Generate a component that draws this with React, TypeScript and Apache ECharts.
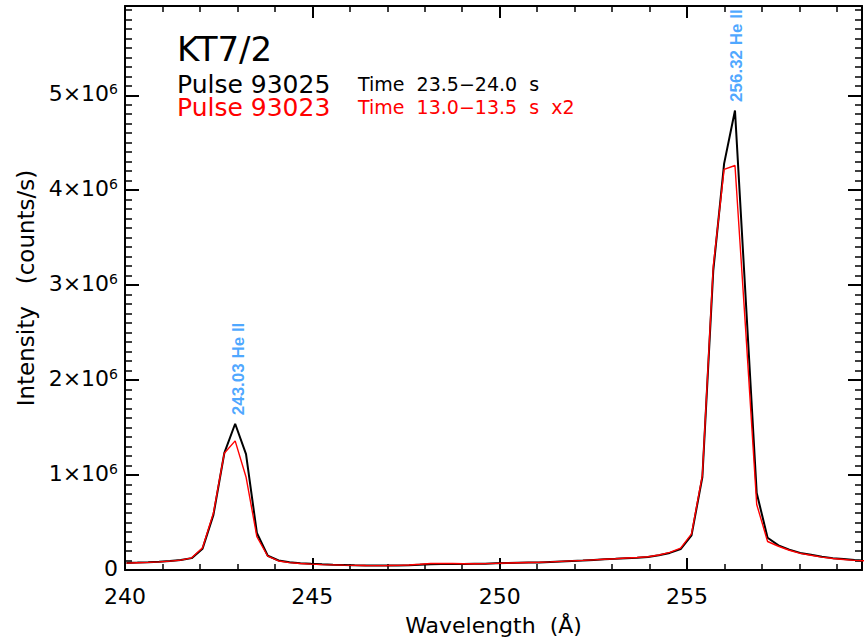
import { useEffect, useRef } from 'react';
import * as echarts from 'echarts';

// Spectrometer pixel wavelengths (Å)
const wavelength = [
  240.04, 240.33, 240.62, 240.91, 241.2, 241.49, 241.78, 242.07, 242.36, 242.65,
  242.94, 243.23, 243.52, 243.81, 244.1, 244.39, 244.68, 244.97, 245.26, 245.55,
  245.84, 246.13, 246.42, 246.71, 247.0, 247.29, 247.58, 247.87, 248.16, 248.45,
  248.74, 249.03, 249.32, 249.61, 249.9, 250.19, 250.48, 250.77, 251.06, 251.35,
  251.64, 251.93, 252.22, 252.51, 252.8, 253.09, 253.38, 253.67, 253.96, 254.25,
  254.54, 254.83, 255.12, 255.41, 255.7, 255.99, 256.28, 256.57, 256.86, 257.15,
  257.44, 257.73, 258.02, 258.31, 258.6, 258.89, 259.18, 259.47, 259.76,
];

// Pulse 93025, 23.5-24.0 s (counts/s)
const pulse93025 = [
  75000, 78000, 82000, 88000, 96000, 105000, 125000, 225000, 580000, 1230000,
  1540000, 1220000, 390000, 150000, 100000, 82000, 72000, 65000, 60000, 56000,
  53000, 50000, 48000, 47000, 47000, 48000, 50000, 55000, 60000, 62000,
  62000, 63000, 65000, 66000, 70000, 73000, 76000, 78000, 80000, 85000,
  90000, 95000, 100000, 106000, 112000, 118000, 125000, 130000, 138000, 155000,
  180000, 220000, 365000, 980000, 3150000, 4280000, 4840000, 2830000, 810000, 340000,
  260000, 215000, 180000, 160000, 140000, 125000, 115000, 105000, 100000,
];

// Pulse 93023, 13.0-13.5 s, scaled x2 (counts/s)
const pulse93023x2 = [
  72000, 76000, 80000, 86000, 94000, 104000, 128000, 235000, 600000, 1230000,
  1360000, 980000, 350000, 145000, 95000, 78000, 68000, 62000, 57000, 54000,
  51000, 49000, 47000, 46000, 47000, 49000, 53000, 60000, 68000, 70000,
  68000, 66000, 66000, 67000, 70000, 73000, 76000, 79000, 82000, 86000,
  91000, 96000, 101000, 107000, 113000, 119000, 126000, 132000, 140000, 158000,
  185000, 230000, 380000, 1000000, 3200000, 4220000, 4260000, 2500000, 690000, 300000,
  250000, 208000, 175000, 155000, 136000, 121000, 111000, 101000, 96000,
];

// Identified lines
const lineWavelengths = [243.03, 256.32];
const lineIons = ['He II', 'He II'];

const xMin = 240;
const xMax = 259.67;
const yMin = 0;
const yMax = 5940000;

const FONT = 'DejaVu Sans';

function peakNear(w: number): number {
  let best = 0;
  wavelength.forEach((x, i) => {
    if (Math.abs(x - w) < 0.3 && pulse93025[i] > best) best = pulse93025[i];
  });
  return best;
}

const black = '#000000';
const red = '#ff0000';
const blue = '#1E90FF';

const tickLine = (w: number) => ({ color: black, width: w });

function headerText(text: string, x: number, y: number, size: number, fill: string) {
  return {
    type: 'text' as const,
    x,
    y,
    style: {
      text,
      fill,
      font: `${size}px "${FONT}"`,
      lineHeight: Math.round(size * 0.8),
      verticalAlign: 'middle' as const,
      align: 'left' as const,
    },
  };
}

function buildOption(): echarts.EChartsOption {
  const xBase = { type: 'value' as const, min: xMin, max: xMax, splitLine: { show: false } };
  const yBase = { type: 'value' as const, min: yMin, max: yMax, splitLine: { show: false } };

  return {
    animation: false,
    backgroundColor: '#ffffff',
    grid: { left: 125, right: -7, top: 6, bottom: 73, containLabel: false },
    xAxis: [
      {
        ...xBase,
        position: 'bottom',
        interval: 5,
        axisLine: { show: true, onZero: false, lineStyle: tickLine(2) },
        axisTick: { show: true, inside: true, length: 12, lineStyle: tickLine(2) },
        axisLabel: {
          formatter: (v: number) => (Math.abs(v % 5) < 1e-9 ? String(v) : ''),
          margin: 15,
          fontSize: 22,
          fontFamily: FONT,
          color: black,
        },
        name: 'Wavelength  (Å)',
        nameLocation: 'middle',
        nameGap: 44,
        nameTextStyle: { fontSize: 22, fontFamily: FONT, color: black },
      },
      {
        ...xBase,
        position: 'bottom',
        interval: 1,
        axisLine: { show: false, onZero: false },
        axisTick: { show: true, inside: true, length: 6, lineStyle: tickLine(1.5) },
        axisLabel: { show: false },
      },
      {
        ...xBase,
        position: 'top',
        interval: 5,
        axisLine: { show: true, onZero: false, lineStyle: tickLine(2) },
        axisTick: { show: true, inside: true, length: 12, lineStyle: tickLine(2) },
        axisLabel: { show: false },
      },
      {
        ...xBase,
        position: 'top',
        interval: 1,
        axisLine: { show: false, onZero: false },
        axisTick: { show: true, inside: true, length: 6, lineStyle: tickLine(1.5) },
        axisLabel: { show: false },
      },
    ],
    yAxis: [
      {
        ...yBase,
        position: 'left',
        interval: 1000000,
        axisLine: { show: true, onZero: false, lineStyle: tickLine(2) },
        axisTick: { show: true, inside: true, length: 14, lineStyle: tickLine(2) },
        axisLabel: {
          formatter: (v: number) => {
            if (v === 0) return '{b|0}';
            if (v % 1000000 !== 0) return '';
            return `{b|${v / 1000000}×10}{s|6}`;
          },
          margin: 7,
          color: black,
          padding: [0, 0, 4, 0],
          rich: {
            b: { fontSize: 22, fontFamily: FONT, color: black },
            s: { fontSize: 14, fontFamily: FONT, color: black, verticalAlign: 'top' },
          },
        },
        name: 'Intensity   (counts/s)',
        nameLocation: 'middle',
        nameGap: 86,
        nameTextStyle: { fontSize: 23, fontFamily: FONT, color: black },
      },
      {
        ...yBase,
        position: 'left',
        interval: 100000,
        axisLine: { show: false, onZero: false },
        axisTick: { show: true, inside: true, length: 7, lineStyle: tickLine(1.5) },
        axisLabel: { show: false },
      },
      {
        ...yBase,
        position: 'right',
        interval: 1000000,
        axisLine: { show: true, onZero: false, lineStyle: tickLine(2) },
        axisTick: { show: true, inside: true, length: 14, lineStyle: tickLine(2) },
        axisLabel: { show: false },
      },
      {
        ...yBase,
        position: 'right',
        interval: 100000,
        axisLine: { show: false, onZero: false },
        axisTick: { show: true, inside: true, length: 7, lineStyle: tickLine(1.5) },
        axisLabel: { show: false },
      },
    ],
    series: [
      {
        name: 'Pulse 93025',
        type: 'line',
        xAxisIndex: 0,
        yAxisIndex: 0,
        data: wavelength.map((w, i) => [w, pulse93025[i]]),
        symbol: 'none',
        lineStyle: { color: black, width: 2 },
        z: 2,
      },
      {
        name: 'Pulse 93023 x2',
        type: 'line',
        xAxisIndex: 0,
        yAxisIndex: 0,
        data: wavelength.map((w, i) => [w, pulse93023x2[i]]),
        symbol: 'none',
        lineStyle: { color: red, width: 1.4 },
        z: 3,
      },
      {
        name: 'lines',
        type: 'scatter',
        xAxisIndex: 0,
        yAxisIndex: 0,
        silent: true,
        symbolSize: 1,
        itemStyle: { color: 'rgba(0,0,0,0)' },
        data: lineWavelengths.map((w, i) => ({
          value: [w, peakNear(w)],
          label: { formatter: `${w.toFixed(2)} ${lineIons[i]}` },
        })),
        label: {
          show: true,
          position: 'top',
          distance: 8,
          rotate: 90,
          align: 'left',
          verticalAlign: 'middle',
          color: blue,
          fontSize: 17,
          fontWeight: 'bold',
          fontFamily: 'Liberation Sans',
        },
        z: 4,
      },
    ],
    graphic: [
      headerText('KT7/2', 177, 49, 34, black),
      headerText('Pulse 93025', 177, 84, 25, black),
      headerText('Time  23.5−24.0  s', 358, 84, 19, black),
      headerText('Pulse 93023', 177, 107, 25, red),
      headerText('Time  13.0−13.5  s  x2', 358, 107, 19, red),
    ],
  };
}

export default function App() {
  const ref = useRef<HTMLDivElement>(null);
  useEffect(() => {
    if (!ref.current) return;
    const chart = echarts.init(ref.current, null, { renderer: 'svg' });
    chart.setOption(buildOption());
    return () => chart.dispose();
  }, []);
  return (
    <div
      ref={ref}
      style={{ position: 'fixed', left: 0, top: 0, width: 865, height: 643, background: '#ffffff' }}
    />
  );
}
